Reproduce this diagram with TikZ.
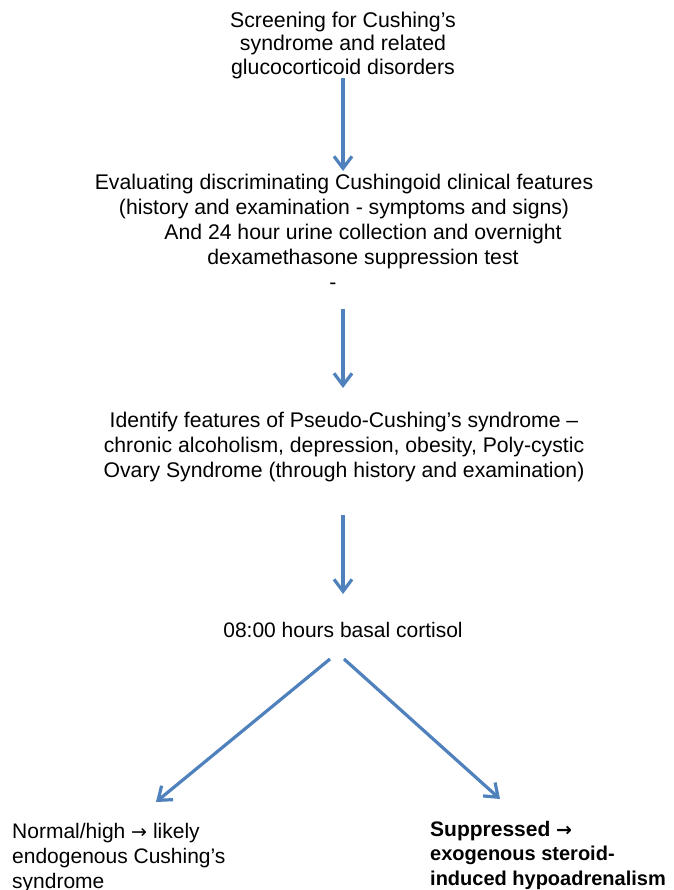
\documentclass[tikz,border=0pt]{standalone}
\usepackage{fontspec}
\setmainfont{Liberation Sans}
\newfontfamily\arrowfont{DejaVu Sans}
\usetikzlibrary{arrows.meta}
\definecolor{arrowblue}{RGB}{79,129,189}
\begin{document}
\begin{tikzpicture}[x=1pt,y=-1pt,
  txt/.style={font=\fontsize{21}{25}\selectfont, inner sep=0pt, align=center, text=black},
  flowarrow/.style={draw=arrowblue, line width=3.2pt, -{Straight Barb[length=12pt,width=18pt,line width=3.2pt]}}
]
\useasboundingbox (0,0) rectangle (673,890);
\fill[white] (0,0) rectangle (673,890);

\node[txt, font=\fontsize{21.3}{23.5}\selectfont] (screen) at (343,45) {Screening for Cushing’s\\syndrome and related\\glucocorticoid disorders};

\node[txt, font=\fontsize{21.2}{25}\selectfont] (eval) at (344,232) {Evaluating discriminating Cushingoid clinical features\\(history and examination - symptoms and signs)\\\hspace*{38pt}And 24 hour urine collection and overnight\\\hspace*{38pt}dexamethasone suppression test\\-\hspace*{22pt}};

\node[txt, font=\fontsize{21.2}{25}\selectfont] (pseudo) at (344,447.5) {Identify features of Pseudo-Cushing’s syndrome –\\chronic alcoholism, depression, obesity, Poly-cystic\\Ovary Syndrome (through history and examination)};

\node[txt] (basal) at (343,630) {08:00 hours basal cortisol};

\node[txt, align=left, anchor=west] (endo) at (12,858) {Normal/high {\arrowfont\fontsize{19}{25}\selectfont →} likely\\endogenous Cushing’s\\syndrome};

\node[txt, align=left, anchor=west, font=\fontsize{20}{24.5}\bfseries] (supp) at (430,855) {{\fontsize{21}{24.5}\selectfont Suppressed {\arrowfont\fontsize{19}{24.5}\selectfont\bfseries →}}\\exogenous steroid-\\induced hypoadrenalism};

\coordinate (a1s) at (343,78);  \coordinate (a1e) at (343,171);
\coordinate (a2s) at (343,309); \coordinate (a2e) at (343,388);
\coordinate (a3s) at (343,515); \coordinate (a3e) at (343,594);
\coordinate (als) at (330,659); \coordinate (ale) at (156,802);
\coordinate (ars) at (344,659); \coordinate (are) at (500,799);

\draw[flowarrow] (a1s) -- (a1e);
\draw[flowarrow] (a2s) -- (a2e);
\draw[flowarrow] (a3s) -- (a3e);
\draw[flowarrow] (als) -- (ale);
\draw[flowarrow] (ars) -- (are);
\end{tikzpicture}
\end{document}
